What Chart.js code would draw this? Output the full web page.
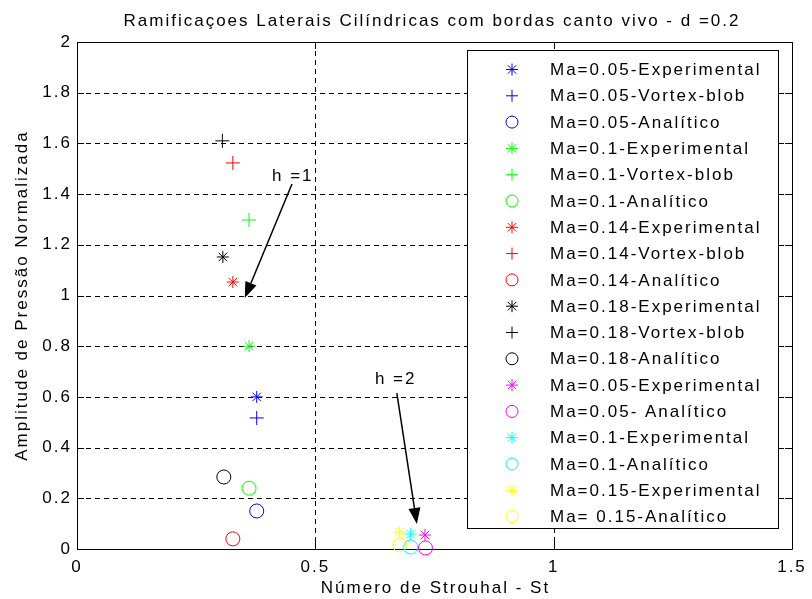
<!DOCTYPE html>
<html>
<head>
<meta charset="utf-8">
<title>Ramificações Laterais</title>
<script src="https://cdn.jsdelivr.net/npm/chart.js@4/dist/chart.umd.min.js"></script>
<style>
  html, body { margin: 0; padding: 0; background: #fff; }
  #chart { display: block; }
</style>
</head>
<body>
<canvas id="chart" width="812" height="599"></canvas>
<script>
// series, in legend order
const seriesLabels = [
    'Ma=0.05-Experimental', 'Ma=0.05-Vortex-blob', 'Ma=0.05-Analítico',
    'Ma=0.1-Experimental', 'Ma=0.1-Vortex-blob', 'Ma=0.1-Analítico',
    'Ma=0.14-Experimental', 'Ma=0.14-Vortex-blob', 'Ma=0.14-Analítico',
    'Ma=0.18-Experimental', 'Ma=0.18-Vortex-blob', 'Ma=0.18-Analítico',
    'Ma=0.05-Experimental', 'Ma=0.05- Analítico',
    'Ma=0.1-Experimental', 'Ma=0.1-Analítico',
    'Ma=0.15-Experimental', 'Ma= 0.15-Analítico'
];
const seriesColors = [
    '#0000ff', '#0000ff', '#0000ff',
    '#00ff00', '#00ff00', '#00ff00',
    '#ff0000', '#ff0000', '#ff0000',
    '#000000', '#000000', '#000000',
    '#ff00ff', '#ff00ff',
    '#00ffff', '#00ffff',
    '#ffff00', '#ffff00'
];
const seriesMarkers = [
    'star', 'cross', 'circle',
    'star', 'cross', 'circle',
    'star', 'cross', 'circle',
    'star', 'cross', 'circle',
    'star', 'circle',
    'star', 'circle',
    'star', 'circle'
];
// Strouhal number (x) and normalized amplitude (y) for each series
const strouhal = [
    [0.377], [0.377], [0.377],
    [0.361], [0.361], [0.361],
    [0.327], [0.327], [0.327],
    [0.306], [0.305], [0.308],
    [0.730], [0.731],
    [0.700], [0.700],
    [0.677], [0.677]
];
const amplitude = [
    [0.600], [0.517], [0.150],
    [0.800], [1.298], [0.240],
    [1.053], [1.523], [0.040],
    [1.152], [1.610], [0.284],
    [0.055], [0.004],
    [0.059], [0.008],
    [0.067], [0.016]
];

const xTicks = [0, 0.5, 1, 1.5];
const yTicks = [0, 0.2, 0.4, 0.6, 0.8, 1, 1.2, 1.4, 1.6, 1.8, 2];

// "h" annotations: text anchor and arrow [from, to] in data units
const hLabels = ['h =1', 'h =2'];
const hTextPos = [[0.409, 1.47], [0.625, 0.67]];
const hArrowFrom = [[0.451, 1.44], [0.671, 0.615]];
const hArrowTo = [[0.352, 0.99], [0.713, 0.099]];

const titleText = 'Ramificaçoes Laterais Cilíndricas com bordas canto vivo - d =0.2';
const xTitle = 'Número de Strouhal - St';
const yTitle = 'Amplitude de Pressão Normalizada';

const FONT = '17px "Liberation Sans", Arial, sans-serif';
const SPACING = '2px';

function drawMarker(ctx, style, x, y, r) {
    ctx.beginPath();
    if (style === 'circle') {
        ctx.arc(x, y, r, 0, Math.PI * 2);
    } else {
        ctx.moveTo(x - r, y); ctx.lineTo(x + r, y);
        ctx.moveTo(x, y - r); ctx.lineTo(x, y + r);
        if (style === 'star') {
            const d = r * Math.SQRT1_2;
            ctx.moveTo(x - d, y - d); ctx.lineTo(x + d, y + d);
            ctx.moveTo(x - d, y + d); ctx.lineTo(x + d, y - d);
        }
    }
    ctx.stroke();
}

const datasets = seriesLabels.map((label, i) => ({
    label,
    data: strouhal[i].map((x, j) => ({ x, y: amplitude[i][j] })),
    pointStyle: seriesMarkers[i],
    pointRadius: seriesMarkers[i] === 'circle' ? 7 : (seriesMarkers[i] === 'cross' ? 7 : 6),
    pointBorderWidth: 1,
    borderColor: seriesColors[i],
    backgroundColor: seriesMarkers[i] === 'circle' ? 'rgba(0,0,0,0)' : seriesColors[i],
    showLine: false,
    clip: false
}));

const matlabFrame = {
    id: 'matlabFrame',
    beforeDraw(chart) {
        const ctx = chart.ctx;
        ctx.save();
        ctx.fillStyle = '#fff';
        ctx.fillRect(0, 0, chart.width, chart.height);
        ctx.restore();
        ctx.letterSpacing = SPACING;
    },
    beforeDatasetsDraw(chart) {
        const { ctx, chartArea: a, scales } = chart;
        ctx.save();
        ctx.strokeStyle = '#000';
        ctx.lineWidth = 1;
        // dashed grid
        ctx.setLineDash([5, 4]);
        ctx.beginPath();
        xTicks.forEach(v => {
            const px = Math.round(scales.x.getPixelForValue(v)) + 0.5;
            if (px > a.left + 1 && px < a.right - 1) { ctx.moveTo(px, a.top); ctx.lineTo(px, a.bottom); }
        });
        yTicks.forEach(v => {
            const py = Math.round(scales.y.getPixelForValue(v)) + 0.5;
            if (py > a.top + 1 && py < a.bottom - 1) { ctx.moveTo(a.left, py); ctx.lineTo(a.right, py); }
        });
        ctx.stroke();
        // frame and inward ticks
        ctx.setLineDash([]);
        ctx.beginPath();
        ctx.rect(Math.round(a.left) + 0.5, Math.round(a.top) + 0.5, Math.round(a.right - a.left), Math.round(a.bottom - a.top));
        const t = 7;
        xTicks.forEach(v => {
            const px = Math.round(scales.x.getPixelForValue(v)) + 0.5;
            ctx.moveTo(px, a.bottom); ctx.lineTo(px, a.bottom - t);
            ctx.moveTo(px, a.top); ctx.lineTo(px, a.top + t);
        });
        yTicks.forEach(v => {
            const py = Math.round(scales.y.getPixelForValue(v)) + 0.5;
            ctx.moveTo(a.left, py); ctx.lineTo(a.left + t, py);
            ctx.moveTo(a.right, py); ctx.lineTo(a.right - t, py);
        });
        ctx.stroke();
        ctx.restore();
    },
    afterDraw(chart) {
        const { ctx, chartArea: a, scales } = chart;
        ctx.save();
        ctx.letterSpacing = SPACING;
        ctx.font = FONT;
        ctx.fillStyle = '#000';
        ctx.strokeStyle = '#000';

        // titles
        ctx.textAlign = 'center';
        ctx.textBaseline = 'middle';
        ctx.fillText(titleText, 432, 21);
        ctx.fillText(xTitle, (a.left + a.right) / 2 + 1, 588);
        ctx.save();
        ctx.translate(22, (a.top + a.bottom) / 2);
        ctx.rotate(-Math.PI / 2);
        ctx.fillText(yTitle, 0, 0);
        ctx.restore();

        // h annotations with arrows
        ctx.textAlign = 'left';
        hLabels.forEach((txt, i) => {
            ctx.fillText(txt, scales.x.getPixelForValue(hTextPos[i][0]), scales.y.getPixelForValue(hTextPos[i][1]));
            const x0 = scales.x.getPixelForValue(hArrowFrom[i][0]);
            const y0 = scales.y.getPixelForValue(hArrowFrom[i][1]);
            const x1 = scales.x.getPixelForValue(hArrowTo[i][0]);
            const y1 = scales.y.getPixelForValue(hArrowTo[i][1]);
            const ang = Math.atan2(y1 - y0, x1 - x0);
            const len = 16, half = 6;
            const bx = x1 - len * Math.cos(ang), by = y1 - len * Math.sin(ang);
            ctx.lineWidth = 1.5;
            ctx.beginPath();
            ctx.moveTo(x0, y0);
            ctx.lineTo(bx, by);
            ctx.stroke();
            ctx.beginPath();
            ctx.moveTo(x1, y1);
            ctx.lineTo(bx + half * Math.sin(ang), by - half * Math.cos(ang));
            ctx.lineTo(bx - half * Math.sin(ang), by + half * Math.cos(ang));
            ctx.closePath();
            ctx.fill();
        });

        // legend box
        const lx = 467, ly = 50, lw = 311, lh = 478, row = 26.3, first = 69.5;
        ctx.fillStyle = '#fff';
        ctx.fillRect(lx, ly, lw, lh);
        ctx.lineWidth = 1;
        ctx.strokeRect(lx + 0.5, ly + 0.5, lw, lh);
        seriesLabels.forEach((label, i) => {
            const y = first + i * row;
            ctx.strokeStyle = seriesColors[i];
            drawMarker(ctx, seriesMarkers[i], 512, y, seriesMarkers[i] === 'circle' ? 6 : 6);
            ctx.fillStyle = '#000';
            ctx.fillText(label, 550, y + 1);
        });
        ctx.restore();
    }
};

new Chart(document.getElementById('chart'), {
    type: 'scatter',
    data: { datasets },
    options: {
        responsive: false,
        animation: false,
        events: [],
        layout: { padding: { top: 42, right: 20, left: 0, bottom: 0 } },
        plugins: { legend: { display: false }, tooltip: { enabled: false } },
        scales: {
            x: {
                type: 'linear', min: 0, max: 1.5,
                afterFit: s => { s.height = 50; },
                afterBuildTicks: s => { s.ticks = xTicks.map(v => ({ value: v })); },
                grid: { display: false, drawTicks: false },
                border: { display: false },
                ticks: {
                    color: '#000', padding: 8, maxRotation: 0,
                    font: { family: '"Liberation Sans", Arial, sans-serif', size: 17 },
                    callback: v => String(+v.toFixed(2))
                }
            },
            y: {
                type: 'linear', min: 0, max: 2,
                afterFit: s => { s.width = 77; },
                afterBuildTicks: s => { s.ticks = yTicks.map(v => ({ value: v })); },
                grid: { display: false, drawTicks: false },
                border: { display: false },
                ticks: {
                    color: '#000', padding: 5,
                    font: { family: '"Liberation Sans", Arial, sans-serif', size: 17 },
                    callback: v => String(+v.toFixed(2))
                }
            }
        }
    },
    plugins: [matlabFrame]
});
</script>
</body>
</html>
